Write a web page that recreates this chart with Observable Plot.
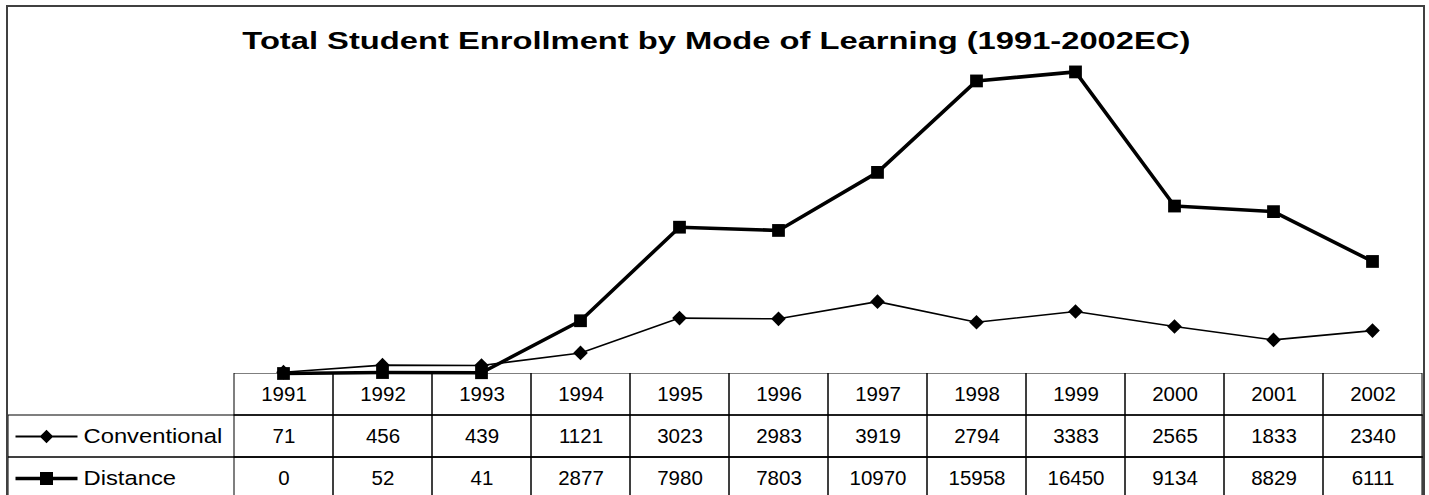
<!DOCTYPE html>
<html>
<head>
<meta charset="utf-8">
<script src="https://cdn.jsdelivr.net/npm/d3@7"></script>
<script src="https://cdn.jsdelivr.net/npm/@observablehq/plot@0.6"></script>
<style>
html, body { margin: 0; padding: 0; background: #fff; }
#wrap { position: relative; width: 1429px; height: 495px; overflow: hidden; background: #fff; font-family: Arial, "Liberation Sans", sans-serif; }
#border { position: absolute; left: 6px; top: 5px; width: 1415px; height: 600px; border: 2px solid #404040; pointer-events: none; }
#title { position: absolute; left: 0; top: 29.5px; width: 1432px; text-align: center; white-space: nowrap; }
#title span { display: inline-block; font-weight: bold; font-size: 23px; line-height: 23px; color: #000; transform-origin: 50% 50%; }
#chart, #table { position: absolute; left: 0; }
#chart { top: 0; }
#table { top: 373px; }
</style>
</head>
<body>
<div id="wrap">
  <div id="title"><span id="titleText"></span></div>
  <div id="chart"></div>
  <div id="table"></div>
  <div id="border"></div>
</div>
<script>
// ---- data ----
const titleText = "Total Student Enrollment by Mode of Learning (1991-2002EC)";
const years = ["1991","1992","1993","1994","1995","1996","1997","1998","1999","2000","2001","2002"];
const series = ["Conventional", "Distance"];
const conventional = [71, 456, 439, 1121, 3023, 2983, 3919, 2794, 3383, 2565, 1833, 2340];
const distance = [0, 52, 41, 2877, 7980, 7803, 10970, 15958, 16450, 9134, 8829, 6111];

// ---- title ----
const ts = document.getElementById("titleText");
ts.textContent = titleText;
const natW = ts.getBoundingClientRect().width;
ts.style.transform = `scaleX(${948 / natW})`;

// ---- chart ----
const convData = years.map((year, i) => ({year, value: conventional[i]}));
const distData = years.map((year, i) => ({year, value: distance[i]}));

const chart = Plot.plot({
  width: 1429,
  height: 374,
  marginLeft: 232, marginRight: 6, marginTop: 43, marginBottom: 1,
  x: {type: "point", domain: years, range: [232, 1423], padding: 0.5, axis: null},
  y: {domain: [0, 18000], range: [373, 43], axis: null},
  style: {background: "transparent", maxWidth: "none", overflow: "visible"},
  marks: [
    Plot.line(convData, {x: "year", y: "value", stroke: "#000", strokeWidth: 1.6}),
    Plot.dot(convData, {x: "year", y: "value", symbol: "diamond2", r: 6.6, fill: "#000", stroke: "none"}),
    Plot.line(distData, {x: "year", y: "value", stroke: "#000", strokeWidth: 3.6}),
    Plot.dot(distData, {x: "year", y: "value", symbol: "square", r: 7.2, fill: "#000", stroke: "none"})
  ]
});
document.getElementById("chart").append(chart);

// ---- data table ----
const rowKeys = ["Year", ...series];
const cells = [];
years.forEach((year, i) => {
  cells.push({row: "Year", year, text: year});
  cells.push({row: "Conventional", year, text: String(conventional[i])});
  cells.push({row: "Distance", year, text: String(distance[i])});
});

const convSymbol = {draw(ctx) {
  ctx.rect(-31, -0.9, 62, 1.8);
  ctx.moveTo(0, -6.8); ctx.lineTo(6.8, 0); ctx.lineTo(0, 6.8); ctx.lineTo(-6.8, 0); ctx.closePath();
}};
const distSymbol = {draw(ctx) {
  ctx.rect(-31, -1.7, 62, 3.4);
  ctx.rect(-6.5, -6.5, 13, 13);
}};

const table = Plot.plot({
  width: 1429,
  height: 126,
  marginLeft: 8, marginRight: 6, marginTop: 0, marginBottom: 0,
  x: {type: "band", domain: years, range: [232, 1423], padding: 0, axis: null},
  y: {type: "band", domain: rowKeys, range: [0, 126], padding: 0, axis: null},
  style: {background: "transparent", maxWidth: "none", fontFamily: "Arial, 'Liberation Sans', sans-serif", fontSize: "20.5px", color: "#000"},
  marks: [
    Plot.cell(series, {y: d => d, fill: "none", stroke: "#000", strokeWidth: 1}),
    Plot.cell(cells, {x: "year", y: "row", fill: "none", stroke: "#000", strokeWidth: 1}),
    Plot.text(cells, {x: "year", y: "row", text: "text", fill: "#000", fontSize: 20.5}),
    Plot.text(series, {y: d => d, text: d => d, frameAnchor: "left", dx: 75, textAnchor: "start", fill: "#000", fontSize: 20.5}),
    Plot.dot([series[0]], {y: d => d, frameAnchor: "left", dx: 38, symbol: convSymbol, fill: "#000", stroke: "none"}),
    Plot.dot([series[1]], {y: d => d, frameAnchor: "left", dx: 38, symbol: distSymbol, fill: "#000", stroke: "none"})
  ]
});
document.getElementById("table").append(table);

d3.select(table).selectAll("text").each(function() {
  if (series.includes(this.textContent)) {
    const w = this.getComputedTextLength();
    this.setAttribute("textLength", w * 1.16);
    this.setAttribute("lengthAdjust", "spacingAndGlyphs");
  }
});
</script>
</body>
</html>
